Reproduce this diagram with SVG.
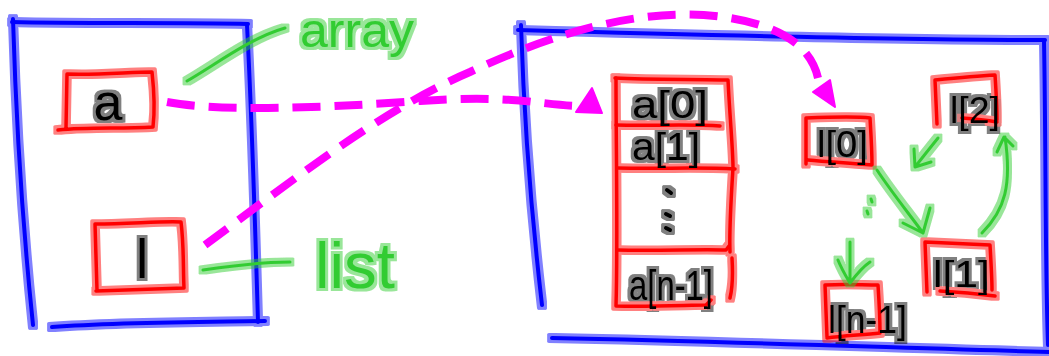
<svg xmlns="http://www.w3.org/2000/svg" width="1049" height="356" viewBox="0 0 1049 356">
  <defs>
    <!-- soft marker-pen glow: a faded, widened copy of each stroke under the stroke itself -->
    <filter id="ink" filterUnits="userSpaceOnUse" x="0" y="0" width="1049" height="356">
      <feMorphology in="SourceGraphic" operator="dilate" radius="2.5" result="wide"/>
      <feGaussianBlur in="wide" stdDeviation="0.6" result="soft"/>
      <feComponentTransfer in="soft" result="glow">
        <feFuncA type="linear" slope="0.5"/>
      </feComponentTransfer>
      <feMerge>
        <feMergeNode in="glow"/>
        <feMergeNode in="SourceGraphic"/>
      </feMerge>
    </filter>
  </defs>
  <style>
    .pen { fill: none; stroke-linecap: round; stroke-linejoin: round; }
    .blue { stroke: #0000ff; stroke-width: 4; }
    .red { stroke: #ff0000; stroke-width: 3.5; }
    .green { stroke: #33cc33; stroke-width: 3; }
    .dots { stroke: #000000; stroke-width: 4; }
    .ptr { fill: none; stroke: #ff00ff; stroke-width: 8; stroke-dasharray: 28 14; }
    .head { fill: #ff00ff; stroke: #ff00ff; stroke-width: 2; stroke-linejoin: round; }
    .ink { filter: url(#ink); }
    .lbl { font-family: "Liberation Sans", Arial, sans-serif; fill: #000000; }
    .note { font-family: "Liberation Sans", Arial, sans-serif; fill: #33cc33; }
  </style>

  <rect width="1049" height="356" fill="#ffffff"/>

  <!-- stack frame -->
  <g id="stack" class="ink">
    <path class="pen blue" d="M12,22 C80,24 180,22 248,24"/>
    <path class="pen blue" d="M13,19 C16,120 22,220 33,325"/>
    <path class="pen blue" d="M247,25 C252,120 255,220 258,322"/>
    <path class="pen blue" d="M52,327 C120,322 200,322 265,321"/>
  </g>

  <!-- heap frame -->
  <g id="heap" class="ink">
    <path class="pen blue" d="M518,30 C700,35 900,40 1045,40"/>
    <path class="pen blue" d="M521,25 C524,120 532,220 542,305"/>
    <path class="pen blue" d="M1044,40 C1046,150 1045,260 1048,345"/>
    <path class="pen blue" d="M552,338 C750,342 900,348 1049,352"/>
  </g>

  <!-- variable a -->
  <g id="var-a" class="ink">
    <path class="pen red" d="M67,74 C100,75 130,72 152,72 C154,90 155,110 153,127 C120,129 90,127 58,130 M67,74 L66,128"/>
    <text class="lbl" x="108" y="120" font-size="52" text-anchor="middle">a</text>
  </g>

  <!-- variable l -->
  <g id="var-l" class="ink">
    <path class="pen red" d="M95,224 C130,224 160,221 181,222 C184,245 183,268 184,288 C150,289 120,290 96,291 M95,224 L97,290"/>
    <text class="lbl" x="142" y="278" font-size="55" text-anchor="middle">l</text>
  </g>

  <!-- labels -->
  <g id="label-array" class="ink">
    <path class="pen green" d="M187,81 C215,65 250,38 285,28"/>
    <text class="note" x="300" y="47" font-size="48" textLength="114" lengthAdjust="spacingAndGlyphs">array</text>
  </g>
  <g id="label-list" class="ink">
    <path class="pen green" d="M203,270 C230,266 260,262 290,262"/>
    <text class="note" x="315" y="288" font-size="64" textLength="80" lengthAdjust="spacingAndGlyphs">list</text>
  </g>

  <!-- contiguous array block -->
  <g id="array" class="ink">
    <path class="pen red" d="M615,78 C650,80 700,79 728,80 C730,120 733,150 733,168 C731,200 729,230 730,252 M732,258 C733,275 732,290 730,298"/>
    <path class="pen red" d="M616,78 C616,150 618,240 616,306 C650,307 690,305 706,305 L711,300"/>
    <path class="pen red" d="M616,125 C650,126 690,124 720,126"/>
    <path class="pen red" d="M617,168 C660,169 700,167 735,169"/>
    <path class="pen red" d="M617,250 C660,251 700,249 726,250 L729,246"/>
    <text class="lbl" x="632" y="118" font-size="38" textLength="76" lengthAdjust="spacingAndGlyphs">a[0]</text>
    <text class="lbl" x="632" y="160" font-size="38" textLength="68" lengthAdjust="spacingAndGlyphs">a[1]</text>
    <path class="pen dots" d="M667,190 L671,193 M666,214 L670,216 M666,228 L670,230"/>
    <text class="lbl" x="629" y="300" font-size="42" textLength="84" lengthAdjust="spacingAndGlyphs">a[n-1]</text>
  </g>

  <!-- linked list nodes -->
  <g id="node-l0" class="ink">
    <path class="pen red" d="M806,118 C830,117 855,116 870,118 C871,135 872,150 872,165 C850,163 830,162 808,160 M806,118 L806,164"/>
    <text class="lbl" x="817" y="157" font-size="36" textLength="51" lengthAdjust="spacingAndGlyphs">l[0]</text>
  </g>
  <g id="node-l2" class="ink">
    <path class="pen red" d="M935,80 C955,78 975,76 995,75 C996,90 997,105 997,120 M935,80 L937,124 M962,118 C975,119 985,120 997,122"/>
    <text class="lbl" x="950" y="123" font-size="36" textLength="50" lengthAdjust="spacingAndGlyphs">l[2]</text>
  </g>
  <g id="node-l1" class="ink">
    <path class="pen red" d="M925,242 C945,243 970,244 990,245 C991,262 992,278 992,290 M925,242 L927,292 M940,291 C960,292 980,294 995,296"/>
    <text class="lbl" x="933" y="287" font-size="36" textLength="57" lengthAdjust="spacingAndGlyphs">l[1]</text>
  </g>
  <g id="node-ln" class="ink">
    <path class="pen red" d="M825,285 C845,284 862,285 878,285 C879,300 880,318 880,333 C860,335 840,336 827,338 M825,285 L827,337"/>
    <text class="lbl" x="828" y="333" font-size="38" textLength="79" lengthAdjust="spacingAndGlyphs">l[n-1]</text>
  </g>

  <!-- connectors -->
  <g id="connectors">
    <g id="links" class="ink">
      <path class="pen green" d="M877,170 C890,190 910,215 923,233 M903,223 L923,233 L930,208"/>
      <path class="pen green" d="M982,233 C1005,210 1012,185 1005,137 M997,152 L1004,137 L1013,146"/>
      <path class="pen green" d="M938,138 C930,148 922,158 915,167 M914,149 L915,167 L931,162"/>
      <path class="pen green" d="M871,199 L872,202 M867,211 L868,214"/>
      <path class="pen green" d="M850,242 L850,283 M838,260 C842,270 847,278 850,283 C856,275 864,266 870,262"/>
    </g>
    <g id="pointers">
      <path class="ptr" d="M167,102 C220,112 320,108 420,101 S540,106 585,106"/>
      <polygon class="head" points="576,112 592,88 602,113"/>
      <path class="ptr" d="M205,245 C280,190 380,110 470,72 C560,30 650,5 730,18 C790,28 812,52 818,78"/>
      <polygon class="head" points="813,92 830,80 835,107"/>
    </g>
  </g>
</svg>
